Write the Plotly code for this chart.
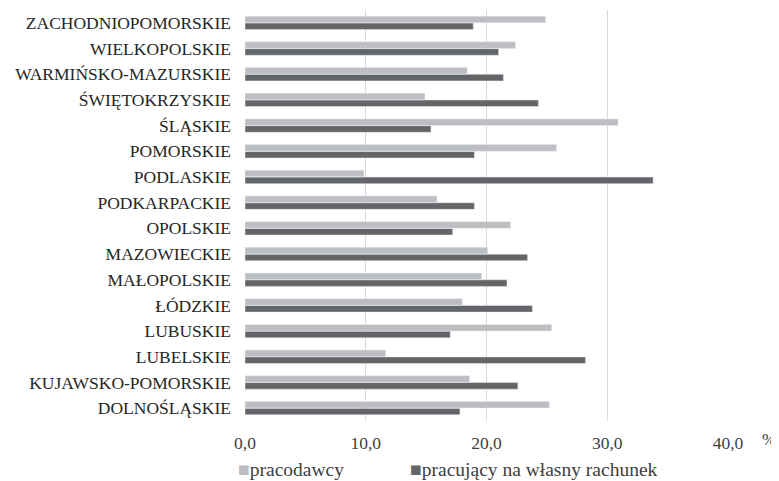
import plotly.graph_objects as go

regions = ["DOLNOŚLĄSKIE", "KUJAWSKO-POMORSKIE", "LUBELSKIE", "LUBUSKIE", "ŁÓDZKIE",
           "MAŁOPOLSKIE", "MAZOWIECKIE", "OPOLSKIE", "PODKARPACKIE", "PODLASKIE",
           "POMORSKIE", "ŚLĄSKIE", "ŚWIĘTOKRZYSKIE", "WARMIŃSKO-MAZURSKIE",
           "WIELKOPOLSKIE", "ZACHODNIOPOMORSKIE"]
pracodawcy = [25.2, 18.6, 11.65, 25.4, 18.0, 19.6, 20.1, 22.0, 15.9, 9.85,
              25.8, 30.9, 14.9, 18.4, 22.4, 24.9]
wlasny = [17.8, 22.6, 28.2, 17.0, 23.8, 21.7, 23.4, 17.2, 19.0, 33.8,
          19.0, 15.4, 24.3, 21.4, 21.0, 18.9]
x_ticks = [0, 10, 20, 30, 40]
x_labels = ["0,0", "10,0", "20,0", "30,0", "40,0"]
series_names = ["pracodawcy", "pracujący na własny rachunek"]
series_colors = ["#BDBEC2", "#646567"]

FONT = "Liberation Serif, Times New Roman, serif"
fig = go.Figure()
fig.add_trace(go.Bar(y=regions, x=wlasny, orientation="h",
                     name=series_names[1], showlegend=False,
                     marker=dict(color=series_colors[1])))
fig.add_trace(go.Bar(y=regions, x=pracodawcy, orientation="h",
                     name=series_names[0], showlegend=False,
                     marker=dict(color=series_colors[0])))

legend_x = [-0.0186, 0.3375]
annotations = [dict(text="%", x=1.103, xanchor="right", y=-0.072, xref="paper", yref="paper",
                    showarrow=False, font=dict(family=FONT, size=17, color="#404040"))]
for name, color, lx in zip(series_names, series_colors, legend_x):
    annotations.append(dict(
        text=f'<span style="color:{color}">■</span>{name}',
        x=lx, xanchor="left", y=-0.117, yanchor="middle",
        xref="paper", yref="paper", showarrow=False,
        font=dict(family=FONT, size=19.5, color="#404040")))

fig.update_layout(
    width=779, height=481,
    margin=dict(l=237, r=59, t=2, b=68, autoexpand=False),
    barmode="group", bargap=0.47, bargroupgap=0.03,
    plot_bgcolor="white", paper_bgcolor="white",
    font=dict(family=FONT, size=17, color="#333333"),
    xaxis=dict(range=[0, 40], tickvals=x_ticks, ticktext=x_labels,
               showgrid=True, gridcolor="#D9D9D9", gridwidth=1,
               zeroline=False, showline=False, ticks="", automargin=False,
               tickfont=dict(family=FONT, size=17.5, color="#404040"),
               ticklabelstandoff=9),
    yaxis=dict(categoryorder="array", categoryarray=regions,
               showgrid=False, zeroline=False, showline=False, ticks="",
               automargin=False,
               tickfont=dict(family=FONT, size=17.5, color="#262626"),
               ticklabelstandoff=13),
    showlegend=False,
    annotations=annotations,
)
fig.write_html("out.html")
